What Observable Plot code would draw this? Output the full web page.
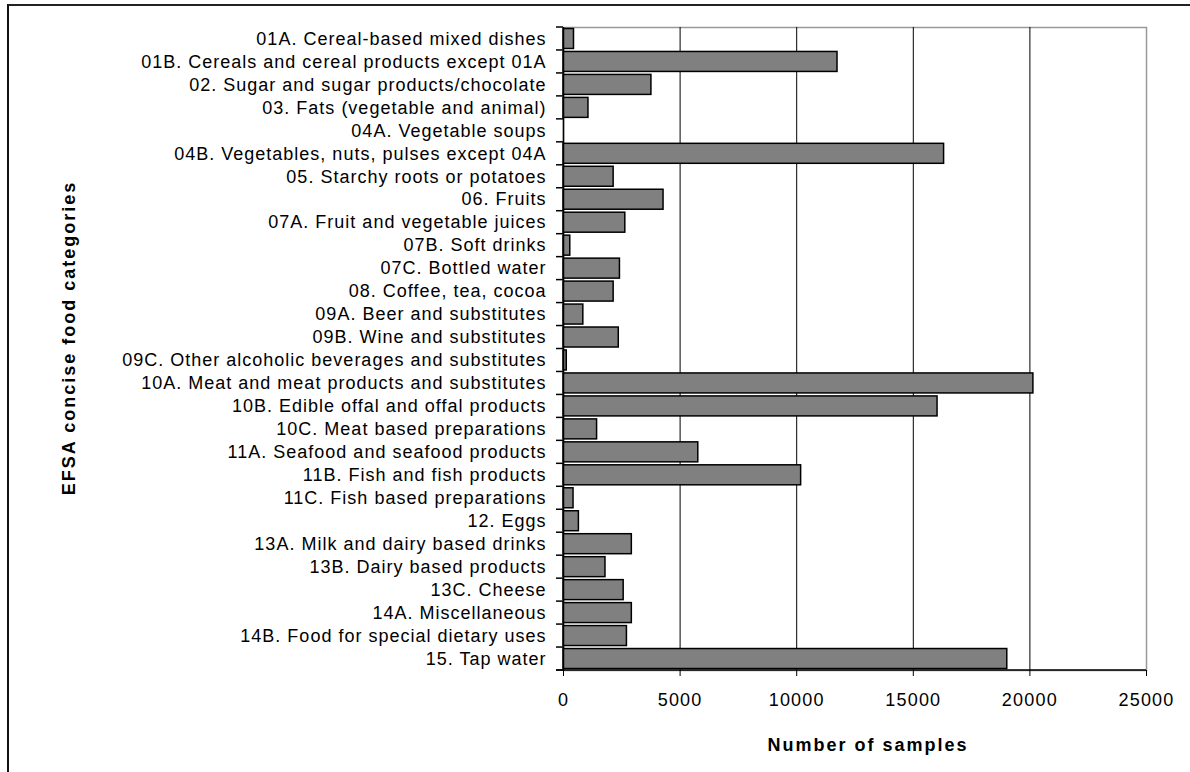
<!DOCTYPE html>
<html><head><meta charset="utf-8">
<script src="https://cdn.jsdelivr.net/npm/d3@7"></script>
<script src="https://cdn.jsdelivr.net/npm/@observablehq/plot@0.6"></script>
<style>
html,body{margin:0;padding:0;background:#fff;overflow:hidden;width:1190px;height:772px;}
#chart{position:absolute;left:0;top:0;}
#border{position:absolute;left:7px;top:4px;width:1400px;height:1000px;border-left:2px solid #111;border-top:2px solid #222;pointer-events:none;}
#chart svg text{letter-spacing:1px;}
#chart .xaxis text{letter-spacing:1.2px;}
#chart .titles text{letter-spacing:2px;}
</style></head><body>
<div id="chart"></div><div id="border"></div>
<script>
const categories = [
  "01A. Cereal-based mixed dishes",
  "01B. Cereals and cereal products except 01A",
  "02. Sugar and sugar products/chocolate",
  "03. Fats (vegetable and animal)",
  "04A. Vegetable soups",
  "04B. Vegetables, nuts, pulses except 04A",
  "05. Starchy roots or potatoes",
  "06. Fruits",
  "07A. Fruit and vegetable juices",
  "07B. Soft drinks",
  "07C. Bottled water",
  "08. Coffee, tea, cocoa",
  "09A. Beer and substitutes",
  "09B. Wine and substitutes",
  "09C. Other alcoholic beverages and substitutes",
  "10A. Meat and meat products and substitutes",
  "10B. Edible offal and offal products",
  "10C. Meat based preparations",
  "11A. Seafood and seafood products",
  "11B. Fish and fish products",
  "11C. Fish based preparations",
  "12. Eggs",
  "13A. Milk and dairy based drinks",
  "13B. Dairy based products",
  "13C. Cheese",
  "14A. Miscellaneous",
  "14B. Food for special dietary uses",
  "15. Tap water"
];
const samples = [
  450, 11750, 3770, 1070, 0, 16320, 2150, 4290, 2650, 290,
  2420, 2150, 850, 2370, 140, 20150, 16040, 1440, 5780, 10190,
  430, 660, 2930, 1800, 2580, 2930, 2720, 19030
];
const xTicks = [0, 5000, 10000, 15000, 20000, 25000];
const xTitle = "Number of samples";
const yTitle = "EFSA concise food categories";

const data = categories.map((c, i) => ({category: c, value: samples[i]}));

const plot = Plot.plot({
  width: 1190, height: 772,
  marginLeft: 563, marginRight: 44, marginTop: 27, marginBottom: 102,
  style: {fontFamily: "'Liberation Sans', Arial, sans-serif", fontSize: "18px", color: "#000", background: "transparent"},
  x: {domain: [0, 25000], ticks: xTicks},
  y: {domain: categories, paddingInner: 0.13, paddingOuter: 0.065, round: false},
  marks: [
    Plot.frame({stroke: "#999", strokeWidth: 1.5}),
    Plot.gridX(xTicks.slice(1, -1), {stroke: "#000", strokeOpacity: 1, strokeWidth: 1}),
    Plot.barX(data.filter(d => d.value > 0), {x: "value", y: "category", fill: "#808080", stroke: "#000", strokeWidth: 1.5}),
    Plot.ruleX([0], {stroke: "#000", strokeWidth: 1.5}),
    Plot.axisY({tickSize: 0, tickPadding: 17, label: null, fontSize: 18}),
    Plot.axisX(xTicks, {tickSize: 6, tickPadding: 17, label: null, stroke: "#000", tickFormat: d => String(d), fontSize: 18, className: "xaxis"}),
    Plot.text([xTitle], {frameAnchor: "bottom", dy: 75, dx: 13, fontWeight: "bold", fontSize: 18, textAnchor: "middle", lineAnchor: "middle", className: "titles"}),
    Plot.text([yTitle], {frameAnchor: "left", dx: -494, dy: -11, rotate: -90, fontWeight: "bold", fontSize: 18, textAnchor: "middle", lineAnchor: "middle", className: "titles"})
  ]
});

const xs = plot.scale("x"), ys = plot.scale("y");
const [yTop, yBot] = ys.range;
const n = categories.length;
const svg = d3.select(plot);
const g = svg.append("g").attr("stroke", "#000").attr("stroke-width", 1.5);
const x0 = xs.apply(0);
g.append("line").attr("x1", x0 - 7).attr("x2", xs.apply(25000)).attr("y1", yBot).attr("y2", yBot);
d3.range(n + 1).forEach(i => {
  const y = yTop + i * (yBot - yTop) / n;
  g.append("line").attr("x1", x0 - 7).attr("x2", x0).attr("y1", y).attr("y2", y);
});
document.getElementById("chart").appendChild(plot);
</script>
</body></html>
